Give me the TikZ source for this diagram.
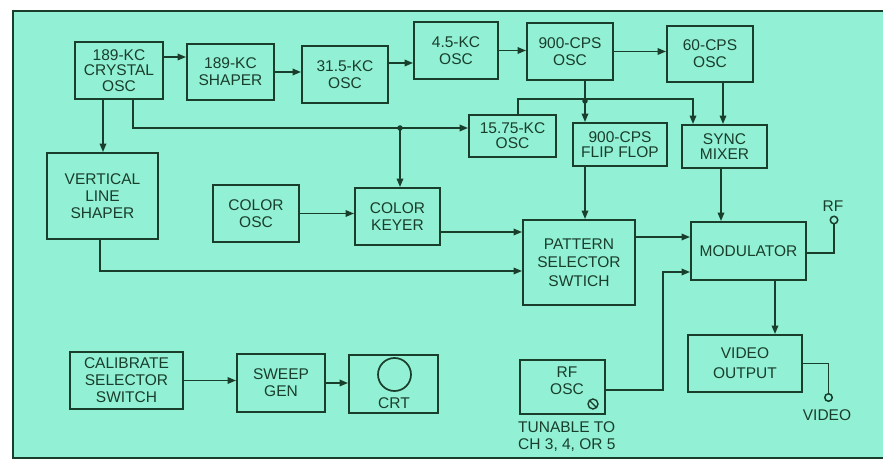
\documentclass[tikz,border=0pt]{standalone}
\usepackage{fontspec}
\setmainfont{Liberation Sans}
\usetikzlibrary{arrows.meta}
\definecolor{bg}{RGB}{146,240,212}
\definecolor{ink}{RGB}{26,62,44}
\begin{document}
\begin{tikzpicture}[x=1pt,y=-1pt,
 blk/.style={draw=ink, line width=1.9pt, text=ink, align=center, inner sep=0pt, font=\fontsize{15.5}{17}\selectfont},
 arr/.style={draw=ink, line width=1.7pt, -{Triangle[length=8.5pt,width=6.5pt]}},
 ln/.style={draw=ink, line width=1.7pt},
 term/.style={circle, draw=ink, line width=1.5pt, minimum size=7.5pt, inner sep=0pt, fill=bg},
 lbl/.style={text=ink, inner sep=0pt, font=\fontsize{15.5}{17}\selectfont},
 dot/.style={circle, fill=ink, inner sep=0pt, minimum size=5.5pt}]
\useasboundingbox (0,0) rectangle (883,462);
\fill[white] (0,0) rectangle (883,462);
\fill[bg] (13,11) rectangle (883,458);
\draw[ink, line width=2.4pt] (883,11) -- (13,11) -- (13,458) -- (883,458);

% blocks
\node[blk, minimum width=88pt, minimum height=57pt, font=\fontsize{15.5}{15.5}\selectfont] (cry) at (119,70.5) {189-KC\\CRYSTAL\\OSC};
\node[blk, minimum width=87pt, minimum height=56pt] (shp) at (230.5,72) {189-KC\\SHAPER};
\node[blk, minimum width=86pt, minimum height=57pt] (k31) at (345,74.5) {31.5-KC\\OSC};
\node[blk, minimum width=84pt, minimum height=57pt] (k45) at (456,50.5) {4.5-KC\\OSC};
\node[blk, minimum width=86pt, minimum height=57pt] (c900) at (570,51.5) {900-CPS\\OSC};
\node[blk, minimum width=86pt, minimum height=56pt] (c60) at (710,54) {60-CPS\\OSC};
\node[blk, minimum width=87pt, minimum height=42pt, font=\fontsize{15.5}{15}\selectfont] (k15) at (512.5,136) {15.75-KC\\OSC};
\node[blk, minimum width=94pt, minimum height=43pt, font=\fontsize{15.5}{15}\selectfont] (ff) at (620,144.5) {900-CPS\\FLIP FLOP};
\node[blk, minimum width=85pt, minimum height=43pt, font=\fontsize{15.5}{15}\selectfont] (sync) at (724.5,146.5) {SYNC\\MIXER};
\node[blk, minimum width=111pt, minimum height=86pt] (vls) at (102.5,196) {VERTICAL\\LINE\\SHAPER};
\node[blk, minimum width=86pt, minimum height=57pt] (cosc) at (256,213.5) {COLOR\\OSC};
\node[blk, minimum width=85pt, minimum height=57pt] (ckey) at (397.5,216.5) {COLOR\\KEYER};
\node[blk, minimum width=112pt, minimum height=85pt, font=\fontsize{15.5}{18.5}\selectfont] (pat) at (579,262.5) {PATTERN\\SELECTOR\\SWTICH};
\node[blk, minimum width=115pt, minimum height=58pt] (mod) at (748.5,251) {MODULATOR};
\node[blk, minimum width=114pt, minimum height=57pt, font=\fontsize{15.5}{20}\selectfont] (vid) at (745,363.5) {VIDEO\\OUTPUT};
\node[blk, minimum width=85pt, minimum height=54pt] (rfo) at (562.5,387) {};
\node[lbl, align=center] (rfot) at (567,381) {RF\\OSC};
\node[blk, minimum width=113pt, minimum height=57pt] (cal) at (126.5,380.5) {CALIBRATE\\SELECTOR\\SWITCH};
\node[blk, minimum width=88pt, minimum height=58pt] (swp) at (281,383) {SWEEP\\GEN};
\node[blk, minimum width=89pt, minimum height=58pt] (crt) at (393.5,384) {};
\node[lbl] (crtt) at (394,403) {CRT};
\draw[ln] (394.5,374.5) circle (16.5);

% tuning screw
\draw[ln, line width=1.4pt] (593,404) circle (5);
\draw[ln, line width=1.4pt] (589.5,400.5) -- (596.5,407.5);
\node[lbl, align=left, anchor=north west] (tun) at (518,421) {TUNABLE TO\\CH 3,\ 4,\ OR 5};

% terminals
\node[term] (rft) at (834,220) {};
\node[lbl] (rfl) at (833,206) {RF};
\node[term] (vt) at (828.5,397.5) {};
\node[lbl] (vl) at (827,415) {VIDEO};

% connectors
\draw[arr] ([yshift=13.5pt]cry.east) -- ([yshift=13.5pt]cry.east -| shp.west);
\draw[arr] (shp.east) -- (shp.east -| k31.west);
\draw[arr] ([yshift=11.5pt]k31.east) -- ([yshift=11.5pt]k31.east -| k45.west);
\draw[arr] (k45.east) -- (k45.east -| c900.west);
\draw[arr] (c900.east) -- (c900.east -| c60.west);
\draw[arr] ([xshift=13pt]c60.south) -- ([xshift=13pt]c60.south |- sync.north);
\draw[arr] ([xshift=15pt]c900.south) -- ([xshift=15pt]c900.south |- ff.north);
\path ([xshift=15pt]c900.south) ++(0,20) coordinate (j1);
\draw[arr] ([xshift=5.5pt]k15.north) -- ++(0,-15) -| ([xshift=-31.5pt]sync.north);
\node[dot] (d1) at (j1) {};
\draw[arr] ([xshift=-16pt]cry.south) -- ([xshift=-16pt]cry.south |- vls.north);
\path ([yshift=8pt]k15.west) coordinate (h1);
\draw[arr] ([xshift=14pt]cry.south) |- (h1);
\draw[arr] ([xshift=2.5pt]ckey.north |- h1) -- ([xshift=2.5pt]ckey.north);
\node[dot] (d2) at ([xshift=2.5pt]ckey.north |- h1) {};
\draw[arr] (cosc.east) -- (cosc.east -| ckey.west);
\draw[arr] ([yshift=-15.5pt]ckey.east) -- ([yshift=-15.5pt]ckey.east -| pat.west);
\draw[arr] ([xshift=-2.5pt]vls.south) |- ([yshift=-8.5pt]pat.west);
\draw[arr] ([xshift=-35pt]ff.south) -- ([xshift=-35pt]ff.south |- pat.north);
\draw[arr] ([xshift=-3.5pt]sync.south) -- ([xshift=-3.5pt]sync.south |- mod.north);
\draw[arr] ([yshift=25.5pt]pat.east) -- ([yshift=25.5pt]pat.east -| mod.west);
\draw[arr] ([yshift=-3pt]rfo.east) -- ++(57,0) |- ([yshift=-21pt]mod.west);
\draw[arr] ([xshift=26.5pt]mod.south) -- ([xshift=26.5pt]mod.south |- vid.north);
\draw[ln] ([yshift=-2pt]mod.east) -| (rft.south);
\draw[ln] (vid.east) -| (vt.north);
\draw[arr] (cal.east) -- (cal.east -| swp.west);
\draw[arr] (swp.east) -- (swp.east -| crt.west);
\end{tikzpicture}
\end{document}
